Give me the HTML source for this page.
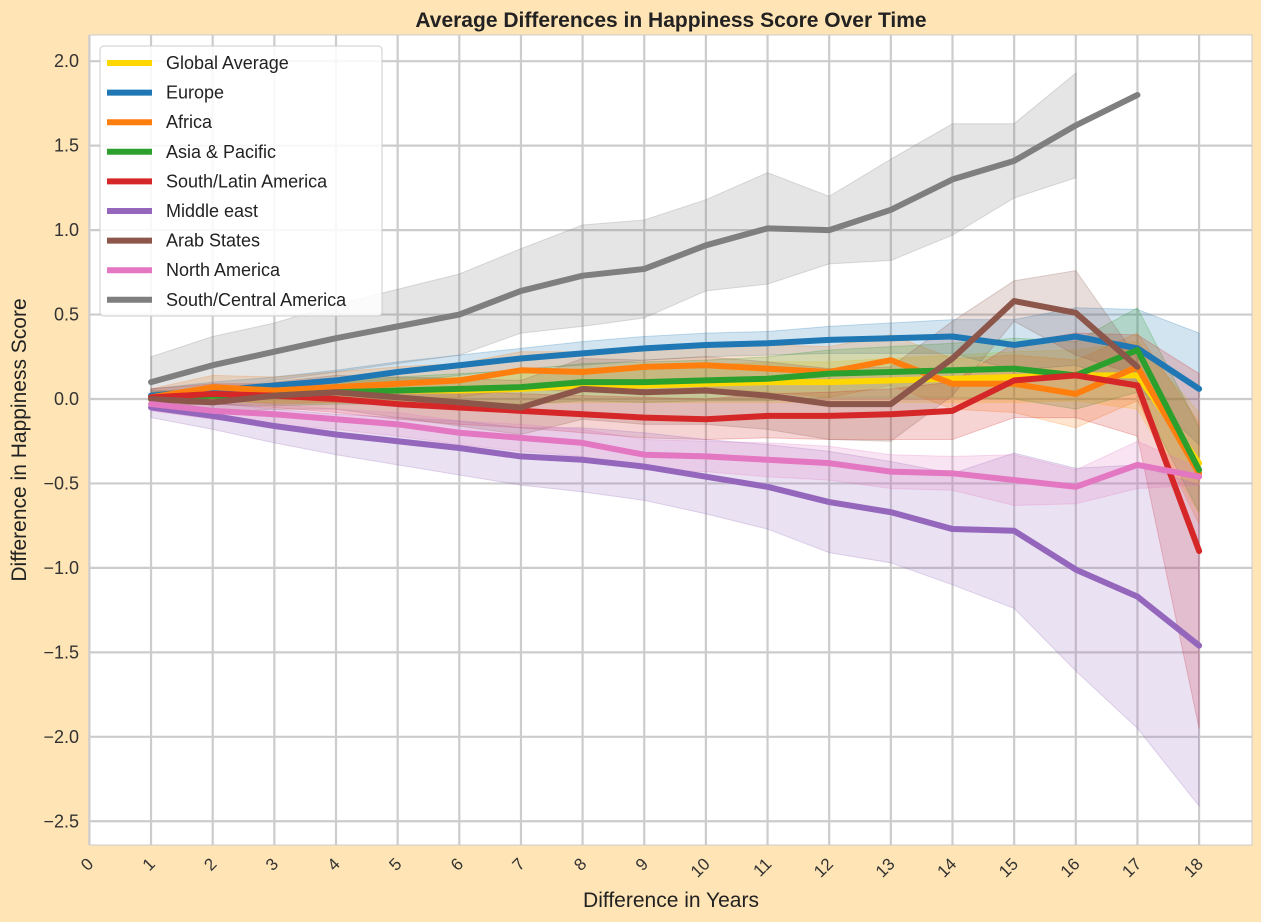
<!DOCTYPE html>
<html><head><meta charset="utf-8"><style>
body{margin:0;background:#ffe4b5;font-family:"Liberation Sans",Arial,sans-serif}
</style></head><body>
<svg id="chart" width="1261" height="922" xmlns="http://www.w3.org/2000/svg" style="display:block"></svg>
<script>
const xs=[1,2,3,4,5,6,7,8,9,10,11,12,13,14,15,16,17,18];
const names=["Global Average","Europe","Africa","Asia & Pacific","South/Latin America","Middle east","Arab States","North America","South/Central America"];
const colors=["#ffd700","#1f77b4","#ff7f0e","#2ca02c","#d62728","#9467bd","#8c564b","#e377c2","#7f7f7f"];
const globalAvg=[0,0.02,0.03,0.04,0.05,0.05,0.06,0.08,0.08,0.09,0.1,0.1,0.11,0.12,0.13,0.14,0.14,-0.38];
const europe=[0.02,0.05,0.08,0.11,0.16,0.2,0.24,0.27,0.3,0.32,0.33,0.35,0.36,0.37,0.32,0.37,0.3,0.06];
const africa=[0.01,0.07,0.05,0.07,0.09,0.11,0.17,0.16,0.19,0.2,0.18,0.16,0.23,0.09,0.09,0.03,0.19,-0.44];
const asia=[0,0.02,0.02,0.04,0.05,0.06,0.07,0.1,0.1,0.11,0.12,0.15,0.16,0.17,0.18,0.14,0.29,-0.42];
const southLatin=[0.01,0.03,0.02,0,-0.03,-0.05,-0.07,-0.09,-0.11,-0.12,-0.1,-0.1,-0.09,-0.07,0.11,0.14,0.08,-0.9];
const middleEast=[-0.05,-0.1,-0.16,-0.21,-0.25,-0.29,-0.34,-0.36,-0.4,-0.46,-0.52,-0.61,-0.67,-0.77,-0.78,-1.01,-1.17,-1.46];
const arab=[0,-0.02,0.02,0.04,0.01,-0.02,-0.05,0.06,0.04,0.05,0.02,-0.03,-0.03,0.24,0.58,0.51,0.19];
const northAm=[-0.03,-0.07,-0.09,-0.12,-0.15,-0.2,-0.23,-0.26,-0.33,-0.34,-0.36,-0.38,-0.43,-0.44,-0.48,-0.52,-0.39,-0.46];
const southCentral=[0.1,0.2,0.28,0.36,0.43,0.5,0.64,0.73,0.77,0.91,1.01,1.0,1.12,1.3,1.41,1.62,1.8];
const bandGlobal=[0.03,0.04,0.05,0.06,0.07,0.08,0.09,0.1,0.1,0.11,0.12,0.12,0.13,0.14,0.15,0.15,0.2,0.3];
const bandEurope=[0.04,0.05,0.05,0.06,0.06,0.06,0.06,0.07,0.07,0.07,0.07,0.08,0.09,0.1,0.15,0.17,0.23,0.33];
const bandAfrica=[0.05,0.07,0.08,0.09,0.1,0.1,0.11,0.12,0.12,0.13,0.14,0.15,0.15,0.15,0.17,0.2,0.2,0.3];
const bandAsia=[0.04,0.05,0.06,0.07,0.08,0.09,0.1,0.11,0.12,0.12,0.13,0.14,0.15,0.16,0.18,0.2,0.25,0.25];
const bandSouthLatin=[0.05,0.06,0.07,0.08,0.09,0.1,0.1,0.11,0.12,0.12,0.13,0.14,0.15,0.17,0.22,0.25,0.3,1.05];
const bandMiddleEast=[0.06,0.08,0.1,0.12,0.14,0.16,0.17,0.19,0.2,0.22,0.25,0.3,0.3,0.33,0.46,0.6,0.78,0.95];
const bandArab=[0.05,0.06,0.08,0.1,0.12,0.14,0.16,0.18,0.19,0.2,0.2,0.21,0.22,0.22,0.12,0.25,0.05];
const bandNorthAm=[0.04,0.05,0.06,0.06,0.07,0.07,0.08,0.08,0.09,0.09,0.1,0.1,0.1,0.1,0.15,0.1,0.14,0.05];
const bandSouthCentral=[0.15,0.17,0.17,0.2,0.22,0.24,0.25,0.3,0.29,0.27,0.33,0.2,0.3,0.33,0.22,0.31];
const series=[globalAvg,europe,africa,asia,southLatin,middleEast,arab,northAm,southCentral];
const bands=[bandGlobal,bandEurope,bandAfrica,bandAsia,bandSouthLatin,bandMiddleEast,bandArab,bandNorthAm,bandSouthCentral];
const xTicks=[0,1,2,3,4,5,6,7,8,9,10,11,12,13,14,15,16,17,18];
const yTicks=[2.0,1.5,1.0,0.5,0.0,-0.5,-1.0,-1.5,-2.0,-2.5];

const NS="http://www.w3.org/2000/svg";
const svg=document.getElementById('chart');
const L=90,R=1252,T=35,B=845;
const X=v=>89.4+v*61.65;
const Y=v=>399-v*168.9;
function mk(tag,attrs,parent){const e=document.createElementNS(NS,tag);for(const k in attrs)e.setAttribute(k,attrs[k]);(parent||svg).appendChild(e);return e;}

const plot=mk('rect',{x:L,y:T,width:R-L,height:B-T,fill:'#fff',stroke:'#ccc','stroke-width':1});


xTicks.forEach(t=>{
  const g=mk('line',{x1:X(t),x2:X(t),y1:T,y2:B,stroke:'#cccccc','stroke-width':2.2});
  
  
  const tx=mk('text',{x:X(t)+5,y:B+20,'font-size':17,fill:'#333','text-anchor':'end',transform:`rotate(-45 ${X(t)+5} ${B+20})`});
  tx.textContent=t;
  
  
});
yTicks.forEach(t=>{
  const g=mk('line',{x1:L,x2:R,y1:Y(t),y2:Y(t),stroke:'#cccccc','stroke-width':2.2});
  
  
  const tx=mk('text',{x:L-11,y:Y(t)+6,'font-size':18,fill:'#333','text-anchor':'end'});
  tx.textContent=(t<0?'\u2212':'')+Math.abs(t).toFixed(1);
  
  
});
series.forEach((s,i)=>{
  const b=bands[i];
  const up=b.map((w,j)=>X(xs[j])+','+Y(s[j]+w));
  const lo=b.map((w,j)=>X(xs[j])+','+Y(s[j]-w)).reverse();
  const p=mk('polygon',{points:up.concat(lo).join(' '),fill:colors[i],'fill-opacity':0.2,stroke:colors[i],'stroke-opacity':0.25});
  
  
});
series.forEach((s,i)=>{
  const l=mk('polyline',{points:s.map((v,j)=>X(xs[j])+','+Y(v)).join(' '),fill:'none',stroke:colors[i],'stroke-width':6,'stroke-linejoin':'round','stroke-linecap':'round'});
  
  
});
const lg=mk('g',{});


mk('rect',{x:100,y:46,width:282,height:270,rx:4,fill:'#fff','fill-opacity':0.85,stroke:'#ccc'},lg);
names.forEach((n,i)=>{
  const y=63+i*29.6;
  const ln=mk('line',{x1:107,x2:152,y1:y,y2:y,stroke:colors[i],'stroke-width':6},lg);
  
  
  const t=mk('text',{x:166,y:y+6,'font-size':18,fill:'#222'},lg);
  t.textContent=n;
  
  
});
const title=mk('text',{x:671,y:27,'font-size':21,'font-weight':'bold',fill:'#222','text-anchor':'middle'});
title.textContent='Average Differences in Happiness Score Over Time';


const xt=mk('text',{x:671,y:907,'font-size':21,fill:'#222','text-anchor':'middle'});
xt.textContent='Difference in Years';


const yt=mk('text',{x:26,y:440,'font-size':21,fill:'#222','text-anchor':'middle',transform:'rotate(-90 26 440)'});
yt.textContent='Difference in Happiness Score';


</script>
</body></html>
